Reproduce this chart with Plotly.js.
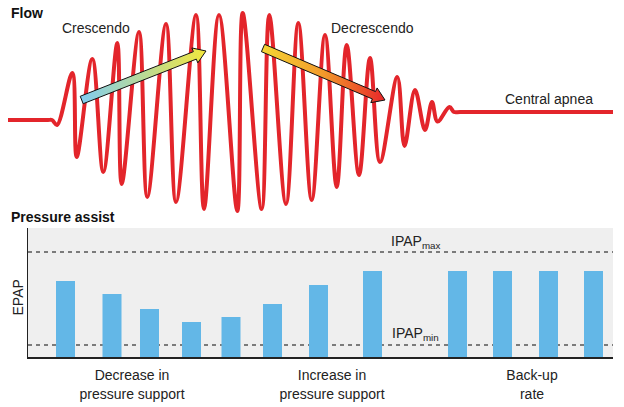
<!DOCTYPE html>
<html>
<head>
<meta charset="utf-8">
<script src="https://cdn.plot.ly/plotly-3.0.1.min.js"></script>
<style>html,body{margin:0;padding:0;background:#fff;}#chart{width:624px;height:407px;}</style>
</head>
<body>
<div id="chart"></div>
<script>
// ---- Flow waveform (time, flow) read at each turning point ----
var flowTime = [8, 30, 48, 52, 57, 72.3, 76.7, 92.3, 103.3, 117.3, 121.7, 139, 147.3, 166, 176, 196, 204, 219, 237.3, 242.7, 261.7, 269.3, 286, 298.3, 311.7, 325, 336.7, 346.7, 359, 370, 380, 397.3, 404.5, 415, 425, 432, 437.5, 449.5, 454, 460, 520, 600, 613];
var flowValue = [0, 0, 0, 0, -5, 47, -37, 61, -52, 77, -64, 88, -77, 96, -82, 105, -89, 105, -91, 107, -89, 105, -84, 97, -80, 85, -67, 75, -55, 62, -42, 43, -26, 30, -10, 18, -1.5, 13, 8, 8, 8, 8, 8];

// ---- Pressure assist bars ----
var breathTime = [65.5, 112, 149.5, 191.5, 231, 272.5, 318.5, 372.5, 457.5, 502.5, 548.5, 593.5];
var pressureLevel = [76, 63, 48, 35, 40, 53, 72, 86, 86, 86, 86, 86];
var IPAP_MAX = 105;
var IPAP_MIN = 12;

// ---- Group labels (x tick labels) ----
var groupTicks = [132, 332, 532];
var groupLabels = ["Decrease in<br>pressure support", "Increase in<br>pressure support", "Back-up<br>rate"];

// ---- Arrows (tail -> tip) in flow-panel coordinates ----
var crescendoArrow = {from: [81.7, 20], to: [206, 69]};
var decrescendoArrow = {from: [263, 72], to: [385, 20]};

var FONT = "Liberation Sans, Arial, Helvetica, sans-serif";
var W = 624, H = 407;

function arrowPoly(a, shaftW, headLen, headW) {
  var x0 = a.from[0], y0 = a.from[1], x1 = a.to[0], y1 = a.to[1];
  var dx = x1 - x0, dy = y1 - y0, L = Math.sqrt(dx*dx + dy*dy);
  var ux = dx / L, uy = dy / L, px = -uy, py = ux;
  var bx = x1 - ux * headLen, by = y1 - uy * headLen;
  var s = shaftW / 2, h = headW / 2;
  var pts = [
    [x0 + px*s, y0 + py*s],
    [bx + px*s, by + py*s],
    [bx + px*h, by + py*h],
    [x1, y1],
    [bx - px*h, by - py*h],
    [bx - px*s, by - py*s],
    [x0 - px*s, y0 - py*s],
    [x0 + px*s, y0 + py*s]
  ];
  return {x: pts.map(function(p){return p[0];}), y: pts.map(function(p){return p[1];})};
}

var a1 = arrowPoly(crescendoArrow, 8, 12, 16);
var a2 = arrowPoly(decrescendoArrow, 8, 12, 16);

var traces = [
  {
    type: "scatter", mode: "lines", x: flowTime, y: flowValue,
    xaxis: "x", yaxis: "y",
    line: {color: "#e3252b", width: 4, shape: "spline", smoothing: 1},
    hoverinfo: "skip", showlegend: false
  },
  {
    type: "scatter", mode: "lines", x: a1.x, y: a1.y, xaxis: "x", yaxis: "y",
    fill: "toself",
    fillgradient: {type: "horizontal", colorscale: [[0, "#80cdf2"], [1, "#f2e63c"]]},
    line: {color: "#111", width: 1}, hoverinfo: "skip", showlegend: false
  },
  {
    type: "scatter", mode: "lines", x: a2.x, y: a2.y, xaxis: "x", yaxis: "y",
    fill: "toself",
    fillgradient: {type: "horizontal", colorscale: [[0, "#f6d634"], [0.5, "#f29a2b"], [1, "#e8262a"]]},
    line: {color: "#111", width: 1}, hoverinfo: "skip", showlegend: false
  },
  {
    type: "bar", x: breathTime, y: pressureLevel, width: 19,
    xaxis: "x2", yaxis: "y2",
    marker: {color: "#63b7e7", line: {width: 0}},
    hoverinfo: "skip", showlegend: false
  }
];

var layout = {
  width: W, height: H,
  margin: {l: 0, r: 0, t: 0, b: 0},
  paper_bgcolor: "#ffffff", plot_bgcolor: "rgba(0,0,0,0)",
  font: {family: FONT, size: 14, color: "#222"},
  showlegend: false,
  xaxis: {domain: [0, 1], range: [0, W], visible: false, fixedrange: true},
  yaxis: {domain: [1 - 215 / H, 1], range: [-95, 120], visible: false, fixedrange: true},
  xaxis2: {
    domain: [28 / W, 613 / W], range: [28, 613], anchor: "y2",
    showline: true, linecolor: "#222", linewidth: 1.5, mirror: false,
    showgrid: false, zeroline: false, ticks: "",
    tickvals: groupTicks, ticktext: groupLabels, ticklabelstandoff: 5,
    tickfont: {family: FONT, size: 14, color: "#222"}
  },
  yaxis2: {
    domain: [1 - 357 / H, 1 - 228 / H], range: [0, 129], anchor: "x2",
    showline: true, linecolor: "#222", linewidth: 1.5,
    showgrid: false, zeroline: false, ticks: "", showticklabels: false
  },
  shapes: [
    {type: "rect", xref: "x2 domain", yref: "y2 domain", x0: 0, x1: 1, y0: 0, y1: 1,
     fillcolor: "#efefef", line: {width: 0}, layer: "below"},
    {type: "line", xref: "x2 domain", yref: "y2", x0: 0, x1: 1, y0: IPAP_MAX, y1: IPAP_MAX,
     line: {color: "#555", width: 1.5, dash: "4px,4px"}, layer: "below"},
    {type: "line", xref: "x2 domain", yref: "y2", x0: 0, x1: 1, y0: IPAP_MIN, y1: IPAP_MIN,
     line: {color: "#555", width: 1.5, dash: "4px,4px"}, layer: "below"}
  ],
  annotations: [
    {text: "<b>Flow</b>", xref: "paper", yref: "paper", x: 9 / W, y: 1 - 13 / H,
     xanchor: "left", yanchor: "middle", showarrow: false, font: {size: 14, color: "#111"}},
    {text: "<b>Pressure assist</b>", xref: "paper", yref: "paper", x: 9 / W, y: 1 - 217 / H,
     xanchor: "left", yanchor: "middle", showarrow: false, font: {size: 14, color: "#111"}},
    {text: "Crescendo", xref: "x", yref: "y", x: 95.5, y: 92, xanchor: "center", yanchor: "middle", showarrow: false},
    {text: "Decrescendo", xref: "x", yref: "y", x: 372, y: 92, xanchor: "center", yanchor: "middle", showarrow: false},
    {text: "Central apnea", xref: "x", yref: "y", x: 549, y: 21, xanchor: "center", yanchor: "middle", showarrow: false},
    {text: "IPAP<sub>max</sub>", xref: "x2", yref: "y2", x: 415, y: 115, xanchor: "center", yanchor: "middle", showarrow: false},
    {text: "IPAP<sub>min</sub>", xref: "x2", yref: "y2", x: 415, y: 23, xanchor: "center", yanchor: "middle", showarrow: false},
    {text: "EPAP", xref: "paper", yref: "paper", x: 17.5 / W, y: 1 - 298 / H, textangle: -90,
     xanchor: "center", yanchor: "middle", showarrow: false}
  ]
};

Plotly.newPlot("chart", traces, layout, {staticPlot: true, displayModeBar: false});
</script>
</body>
</html>
